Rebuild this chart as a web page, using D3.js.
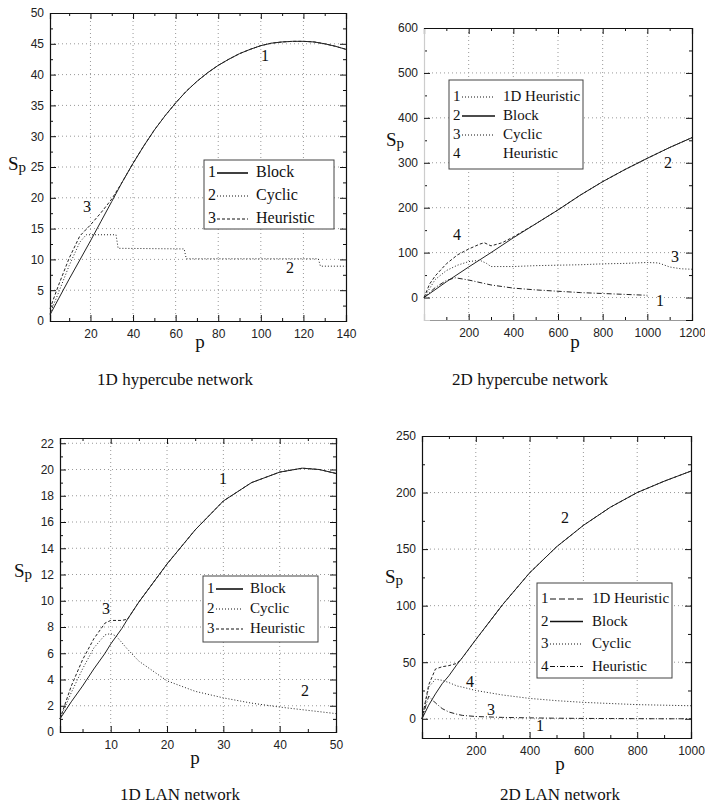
<!DOCTYPE html>
<html>
<head>
<meta charset="utf-8">
<script src="https://cdn.jsdelivr.net/npm/d3@7"></script>
<style>
  body { margin: 0; background: #fff; }
  svg { display: block; }
  .tick text { font-family: "Liberation Sans", Arial, sans-serif; font-size: 12px; fill: #222; }
  .serif { font-family: "Liberation Serif", "Times New Roman", serif; fill: #111; }
</style>
</head>
<body>
<div id="chart"></div>
<script>
// ---- data ----
// 1D hypercube
let hc1P = [1, 5, 10, 15, 20, 25, 30, 35, 40, 45, 50, 55, 60, 65, 70, 75, 80, 85, 90, 95, 100, 105, 110, 115, 120, 125, 130, 135, 140];
let hc1Block = [1, 3.6, 6.8, 9.9, 13, 16.2, 19.4, 22.6, 25.6, 28.4, 31, 33.3, 35.4, 37.3, 38.9, 40.3, 41.5, 42.5, 43.4, 44.1, 44.7, 45.1, 45.3, 45.4, 45.4, 45.3, 45, 44.6, 44.1];
let hc1Heur = [2, 5.8, 10.2, 13.8, 15.6, 17.6, 19.8, 22.6, 25.6, 28.4, 31, 33.3, 35.4, 37.3, 38.9, 40.3, 41.5, 42.5, 43.4, 44.1, 44.7, 45.1, 45.3, 45.4, 45.4, 45.3, 45, 44.6, 44.1];
let hc1CycP = [1, 5, 10, 15, 18, 32, 33, 64, 65, 127, 128, 140];
let hc1Cyc = [1.2, 4.6, 9, 12.8, 14, 14, 11.8, 11.7, 10.1, 10.1, 8.9, 8.9];

// 2D hypercube
let hc2P = [0, 100, 200, 300, 400, 500, 600, 700, 800, 900, 1000, 1100, 1200];
let hc2Block = [0, 35, 68, 100, 133, 164, 195, 228, 258, 285, 310, 334, 356];
let hc2HeurP = [0, 25, 50, 100, 150, 200, 250, 270, 300, 350, 400, 500, 600, 700, 800, 900, 1000, 1100, 1200];
let hc2Heur = [0, 30, 48, 75, 95, 108, 119, 122, 115, 122, 135, 164, 195, 228, 258, 285, 310, 334, 356];
let hc2CycP = [0, 50, 100, 150, 200, 250, 280, 300, 400, 500, 600, 700, 800, 900, 1000, 1050, 1100, 1150, 1200];
let hc2Cyc = [0, 40, 60, 72, 80, 83, 76, 69, 69, 71, 72, 73, 75, 76, 78, 77, 68, 64, 63];
let hc2H1dP = [0, 50, 100, 140, 200, 300, 400, 500, 600, 700, 800, 900, 1000];
let hc2H1d = [0, 22, 38, 44, 39, 28, 21, 17, 14, 11, 9, 7, 5];

// 1D LAN
let lan1P = [1, 3, 5, 7, 9, 10, 11, 12, 13, 15, 20, 25, 30, 35, 40, 44, 47, 50];
let lan1Block = [1, 2.3, 3.5, 4.8, 6, 6.7, 7.3, 7.9, 8.6, 9.9, 12.8, 15.4, 17.6, 19, 19.8, 20.1, 20, 19.7];
let lan1Heur = [1, 3.5, 5.5, 7.1, 8.3, 8.5, 8.5, 8.5, 8.6, 9.9, 12.8, 15.4, 17.6, 19, 19.8, 20.1, 20, 19.7];
let lan1Cyc = [1, 3, 4.8, 6.4, 7.4, 7.5, 7.3, 6.8, 6.3, 5.4, 3.9, 3.1, 2.6, 2.2, 1.9, 1.7, 1.55, 1.4];

// 2D LAN
let lan2P = [0, 25, 50, 75, 100, 130, 150, 200, 300, 400, 500, 600, 700, 800, 900, 1000];
let lan2Block = [0, 12, 22, 31, 38, 48, 54, 70, 101, 129, 152, 171, 187, 200, 210, 219];
let lan2Heur = [0, 30, 44, 46, 47, 49, 54, 70, 101, 129, 152, 171, 187, 200, 210, 219];
let lan2Cyc = [0, 28, 35, 34, 32, 29, 28, 25, 21, 18, 16, 14.5, 13.5, 12.5, 12, 11.5];
let lan2H1d = [0, 20, 14, 9, 6, 4, 3, 2, 1.2, 0.8, 0.5, 0.3, 0.2, 0.1, 0, 0];

let titles = ["1D hypercube network", "2D hypercube network", "1D LAN network", "2D LAN network"];

// ---- drawing ----
let svg = d3.select("#chart").append("svg")
  .attr("width", 705)
  .attr("height", 808);

let dash = { solid: null, dotted: "1,2", dashed: "3,2", dashdot: "5,2,1,2", longdash: "6,3" };

function zip(xs, ys) {
  return xs.map((x, i) => [x, ys[i]]);
}

function drawPanel(c) {
  let x = d3.scaleLinear().domain(c.xDomain).range([c.left, c.right]);
  let y = d3.scaleLinear().domain(c.yDomain).range([c.bottom, c.top]);
  let g = svg.append("g");

  // dotted grid
  g.selectAll(".gx").data(c.xGrid).enter().append("line")
    .attr("x1", d => x(d)).attr("x2", d => x(d))
    .attr("y1", c.top).attr("y2", c.bottom)
    .attr("stroke", "#999").attr("stroke-dasharray", "1,3");
  g.selectAll(".gy").data(c.yGrid).enter().append("line")
    .attr("x1", c.left).attr("x2", c.right)
    .attr("y1", d => y(d)).attr("y2", d => y(d))
    .attr("stroke", "#999").attr("stroke-dasharray", "1,3");

  // axes, ticks inward
  let axes = [
    [d3.axisBottom(x), "translate(0," + c.bottom + ")", true, "x"],
    [d3.axisTop(x), "translate(0," + c.top + ")", false, "x"],
    [d3.axisLeft(y), "translate(" + c.left + ",0)", true, "y"],
    [d3.axisRight(y), "translate(" + c.right + ",0)", false, "y"]
  ];
  axes.forEach(([ax, tr, labels, dim]) => {
    let major = dim == "x" ? c.xTicks : c.yTicks;
    let minor = dim == "x" ? c.xMinor : c.yMinor;
    g.append("g").attr("transform", tr)
      .call(ax.tickValues(minor).tickSize(-3).tickFormat(""))
      .call(s => s.select(".domain").remove())
      .selectAll("line").attr("stroke", "#111");
    let a = g.append("g").attr("transform", tr)
      .call(ax.tickValues(major).tickSize(-6).tickPadding(dim == "x" ? 8 : 6)
        .tickFormat(labels ? d3.format("d") : ""));
    a.selectAll(".tick line").attr("stroke", "#111");
    a.select(".domain").attr("stroke", c.domainColor ? c.domainColor[dim + (labels ? 0 : 1)] : "#111")
      .attr("stroke-width", 1.2);
  });

  // series
  let line = d3.line().x(d => x(d[0])).y(d => y(d[1]));
  c.series.forEach(s => {
    g.append("path")
      .datum(zip(s.p, s.v))
      .attr("d", line)
      .attr("fill", "none")
      .attr("stroke", "#222")
      .attr("stroke-width", 1)
      .attr("stroke-dasharray", dash[s.style]);
  });

  // curve numbers
  c.curveLabels.forEach(l => {
    g.append("text").attr("class", "serif")
      .attr("x", l[1]).attr("y", l[2])
      .attr("font-size", 16)
      .text(l[0]);
  });

  // legend
  let L = c.legend;
  g.append("rect")
    .attr("x", L.x).attr("y", L.y).attr("width", L.w).attr("height", L.h)
    .attr("fill", "#fff").attr("stroke", "#444").attr("stroke-width", 1);
  L.items.forEach((it, i) => {
    let yy = L.y + L.first + i * L.step;
    g.append("text").attr("class", "serif")
      .attr("x", L.x + 4).attr("y", yy + 5)
      .attr("font-size", L.fs).text(i + 1);
    if (it[1]) {
      g.append("line")
        .attr("x1", L.x + 13).attr("x2", L.x + L.lineW)
        .attr("y1", yy + 1).attr("y2", yy + 1)
        .attr("stroke", "#111").attr("stroke-width", it[1] == "solid" ? 1.6 : 1)
        .attr("stroke-dasharray", dash[it[1]]);
    }
    g.append("text").attr("class", "serif")
      .attr("x", L.x + L.textX).attr("y", yy + 5)
      .attr("font-size", L.fs).text(it[0]);
  });

  // axis titles
  let sp = g.append("text").attr("class", "serif")
    .attr("x", c.spX).attr("y", c.spY).attr("font-size", 19);
  sp.append("tspan").text("S");
  sp.append("tspan").attr("font-size", 15).attr("dy", 2).text("p");
  g.append("text").attr("class", "serif")
    .attr("x", c.pX).attr("y", c.pY).attr("font-size", 19)
    .attr("text-anchor", "middle").text("p");

  g.append("text").attr("class", "serif")
    .attr("x", c.titleX).attr("y", c.titleY)
    .attr("font-size", 17).attr("text-anchor", "middle")
    .text(c.title);
}

drawPanel({
  left: 50, right: 346, top: 13, bottom: 321,
  xDomain: [1, 140], yDomain: [0, 50],
  xTicks: [20, 40, 60, 80, 100, 120, 140], xMinor: [10, 30, 50, 70, 90, 110, 130],
  yTicks: d3.range(0, 51, 5), yMinor: d3.range(2.5, 50, 5),
  xGrid: [20, 40, 60, 80, 100, 120], yGrid: d3.range(5, 50, 5),
  series: [
    { p: hc1P, v: hc1Block, style: "solid" },
    { p: hc1CycP, v: hc1Cyc, style: "dotted" },
    { p: hc1P, v: hc1Heur, style: "dashed" }
  ],
  curveLabels: [["1", 261, 61], ["2", 286, 273], ["3", 83, 212]],
  legend: { x: 204, y: 160, w: 130, h: 69, first: 12, step: 23, fs: 16, lineW: 44, textX: 52,
    items: [["Block", "solid"], ["Cyclic", "dotted"], ["Heuristic", "dashed"]] },
  spX: 8, spY: 170, pX: 200, pY: 348,
  title: titles[0], titleX: 175, titleY: 385
});

drawPanel({
  left: 424, right: 692, top: 28, bottom: 320,
  xDomain: [0, 1200], yDomain: [-50, 600],
  xTicks: [200, 400, 600, 800, 1000, 1200], xMinor: [100, 300, 500, 700, 900, 1100],
  yTicks: d3.range(0, 601, 100), yMinor: d3.range(50, 600, 100),
  xGrid: [200, 400, 600, 800, 1000], yGrid: d3.range(0, 600, 100),
  domainColor: { x0: "#999", x1: "#111", y0: "#ccc", y1: "#111" },
  series: [
    { p: hc2H1dP, v: hc2H1d, style: "dashdot" },
    { p: hc2P, v: hc2Block, style: "solid" },
    { p: hc2CycP, v: hc2Cyc, style: "dotted" },
    { p: hc2HeurP, v: hc2Heur, style: "dashed" }
  ],
  curveLabels: [["1", 656, 306], ["2", 664, 168], ["3", 671, 262], ["4", 453, 240]],
  legend: { x: 449, y: 80, w: 134, h: 89, first: 16, step: 19, fs: 15, lineW: 46, textX: 54,
    items: [["1D Heuristic", "dotted"], ["Block", "solid"], ["Cyclic", "dotted"], ["Heuristic", null]] },
  spX: 386, spY: 146, pX: 575, pY: 348,
  title: titles[1], titleX: 530, titleY: 385
});

drawPanel({
  left: 60, right: 336, top: 438, bottom: 732,
  xDomain: [1, 50], yDomain: [0, 22.4],
  xTicks: [10, 20, 30, 40, 50], xMinor: [5, 15, 25, 35, 45],
  yTicks: d3.range(0, 23, 2), yMinor: d3.range(1, 22, 2),
  xGrid: [10, 20, 30, 40], yGrid: d3.range(2, 23, 2),
  series: [
    { p: lan1P, v: lan1Block, style: "solid" },
    { p: lan1P, v: lan1Cyc, style: "dotted" },
    { p: lan1P, v: lan1Heur, style: "dashed" }
  ],
  curveLabels: [["1", 219, 484], ["2", 301, 696], ["3", 102, 614]],
  legend: { x: 203, y: 576, w: 115, h: 66, first: 12, step: 20, fs: 15, lineW: 40, textX: 47,
    items: [["Block", "solid"], ["Cyclic", "dotted"], ["Heuristic", "dashed"]] },
  spX: 14, spY: 577, pX: 195, pY: 764,
  title: titles[2], titleX: 180, titleY: 800
});

drawPanel({
  left: 422, right: 691, top: 436, bottom: 738,
  xDomain: [0, 1000], yDomain: [-17, 250],
  xTicks: [200, 400, 600, 800, 1000], xMinor: [100, 300, 500, 700, 900],
  yTicks: d3.range(0, 251, 50), yMinor: d3.range(25, 250, 50),
  xGrid: [200, 400, 600, 800], yGrid: d3.range(0, 250, 50),
  series: [
    { p: lan2P, v: lan2H1d, style: "dashdot" },
    { p: lan2P, v: lan2Block, style: "solid" },
    { p: lan2P, v: lan2Cyc, style: "dotted" },
    { p: lan2P, v: lan2Heur, style: "dashed" }
  ],
  curveLabels: [["1", 536, 731], ["2", 561, 523], ["3", 487, 715], ["4", 466, 687]],
  legend: { x: 537, y: 583, w: 135, h: 95, first: 15, step: 22.5, fs: 15, lineW: 46, textX: 55,
    items: [["1D Heuristic", "longdash"], ["Block", "solid"], ["Cyclic", "dotted"], ["Heuristic", "dashdot"]] },
  spX: 385, spY: 583, pX: 560, pY: 770,
  title: titles[3], titleX: 560, titleY: 800
});
</script>
</body>
</html>
